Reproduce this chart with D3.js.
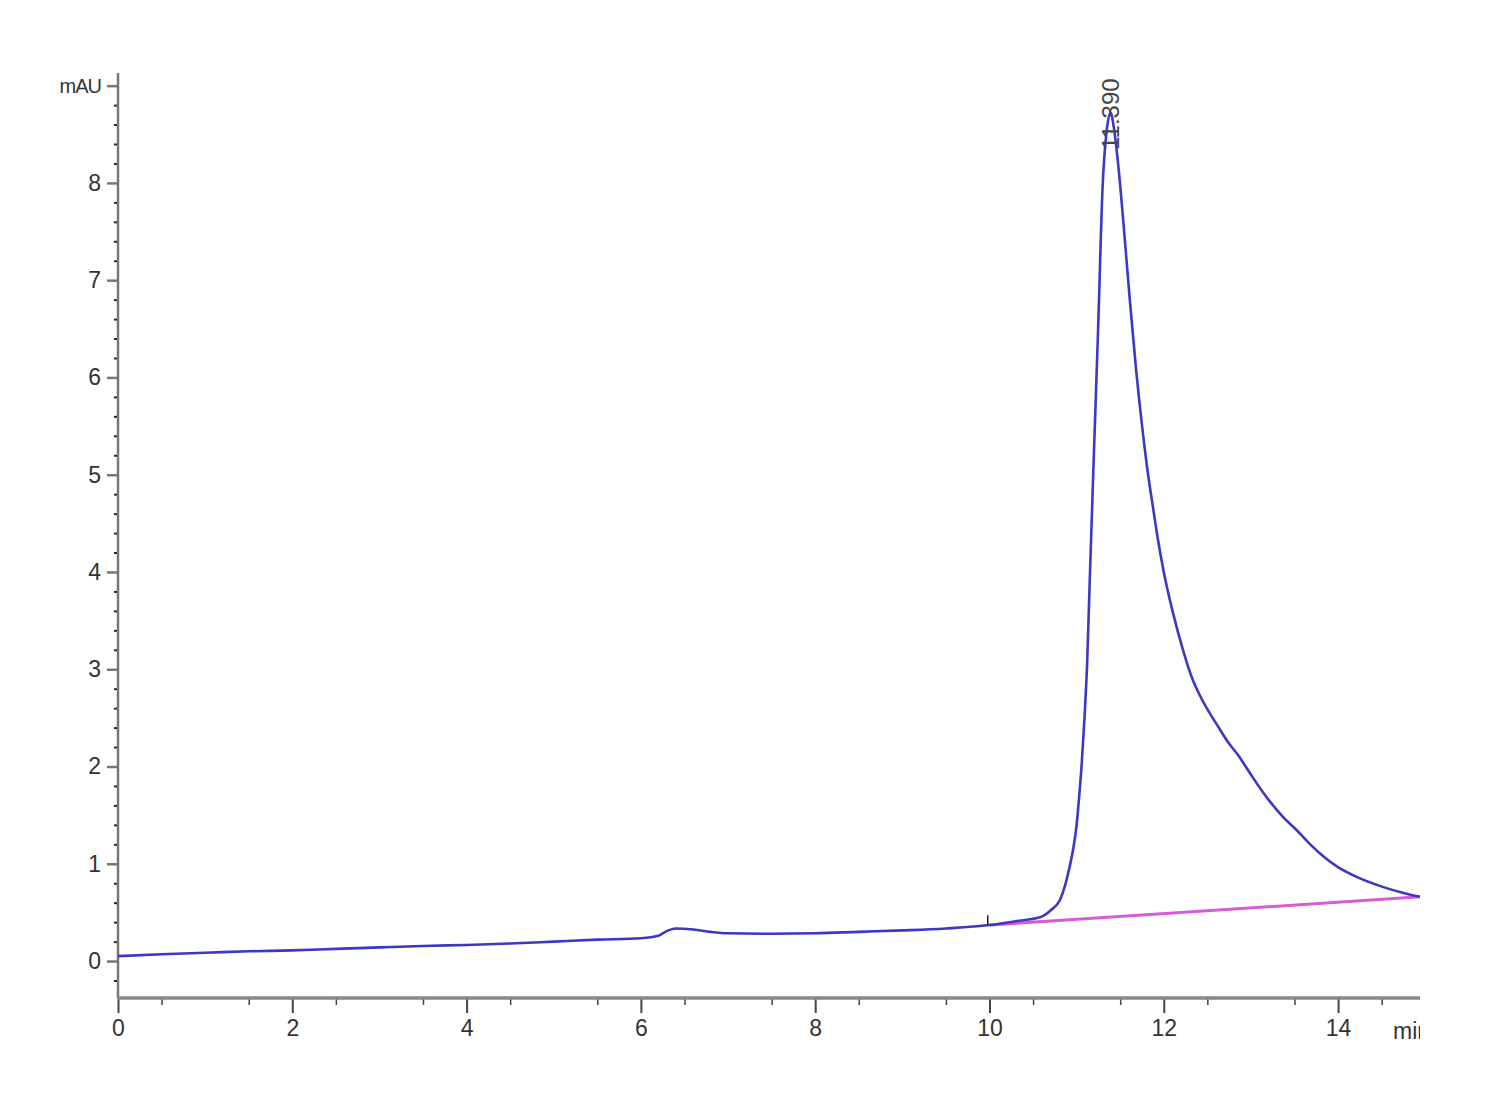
<!DOCTYPE html>
<html>
<head>
<meta charset="utf-8">
<script src="https://cdn.jsdelivr.net/npm/d3@7"></script>
<style>
  body { margin: 0; background: #fff; }
  svg { display: block; }
</style>
</head>
<body>
<div id="chart"></div>
<script>
// chromatogram trace (retention time in min, absorbance in mAU)
var traceTime = [0, 0.5, 1, 1.5, 2, 2.5, 3, 3.5, 4, 4.5, 5, 5.5, 6.0, 6.2, 6.3, 6.4, 6.6, 6.8, 7.0, 7.5,
  8.0, 8.5, 9.0, 9.5, 10.0, 10.3, 10.58, 10.7, 10.81, 10.92, 10.96, 11.00, 11.03, 11.06, 11.09, 11.12,
  11.15, 11.19, 11.245, 11.30, 11.34, 11.39, 11.43, 11.48, 11.55, 11.61, 11.68, 11.76, 11.82, 11.87,
  11.93, 12.0, 12.1, 12.22, 12.32, 12.42, 12.52, 12.61, 12.73, 12.85, 12.99, 13.15, 13.37, 13.52,
  13.68, 13.84, 13.99, 14.2, 14.52, 14.75, 14.94];
var traceMAU = [0.05, 0.07, 0.085, 0.10, 0.11, 0.125, 0.14, 0.155, 0.165, 0.18, 0.2, 0.22, 0.235, 0.26, 0.31, 0.335, 0.325, 0.30, 0.285, 0.28,
  0.285, 0.30, 0.315, 0.335, 0.37, 0.41, 0.45, 0.52, 0.63, 0.97, 1.15, 1.4, 1.7, 2.05, 2.5, 3.05,
  3.9, 5.0, 6.46, 8.0, 8.5, 8.72, 8.55, 8.16, 7.45, 6.8, 6.1, 5.43, 5.0, 4.7,
  4.35, 4.0, 3.6, 3.2, 2.92, 2.72, 2.56, 2.43, 2.26, 2.12, 1.93, 1.72, 1.48, 1.35,
  1.2, 1.07, 0.97, 0.87, 0.76, 0.7, 0.66];

// integration baseline under the peak
var baseTime = [10.0, 14.94];
var baseMAU = [0.37, 0.66];

var peakTime = 11.39;
var peakLabel = "11.390";

var xMajor = [0, 2, 4, 6, 8, 10, 12, 14];
var yMajor = [0, 1, 2, 3, 4, 5, 6, 7, 8, 9];

var width = 1500, height = 1100;
var plotLeft = 118, plotRight = 1420, plotTop = 73, plotBottom = 998;

var svg = d3.select("#chart").append("svg")
    .attr("width", width)
    .attr("height", height);

svg.append("rect").attr("width", width).attr("height", height).attr("fill", "#fff");

var x = d3.scaleLinear().domain([0, 14.94]).range([plotLeft, plotRight]);
var y = d3.scaleLinear().domain([-0.38, 9.13]).range([plotBottom, plotTop]);

var tickFont = "'Liberation Sans', Arial, sans-serif";

// clip everything to the right edge of the plot
svg.append("clipPath").attr("id", "clip")
  .append("rect").attr("x", 0).attr("y", 0).attr("width", plotRight).attr("height", height);

var g = svg.append("g").attr("clip-path", "url(#clip)");

// y axis: minor ticks every 0.2
var yMinor = d3.range(-0.2, 9.01, 0.2).filter(function(v) { return Math.abs(v - Math.round(v)) > 0.01; });
g.append("g")
    .attr("transform", "translate(" + plotLeft + ",0)")
    .call(d3.axisLeft(y).tickValues(yMinor).tickSize(4).tickFormat(""))
    .call(function(a) {
      a.select(".domain").remove();
      a.selectAll("line").attr("stroke", "#222").attr("stroke-width", 2);
    });

var yAxis = g.append("g")
    .attr("transform", "translate(" + plotLeft + ",0)")
    .call(d3.axisLeft(y).tickValues(yMajor).tickSize(11).tickSizeOuter(0).tickPadding(6)
      .tickFormat(function(d) { return d === 9 ? "mAU" : d; }));
yAxis.select(".domain").remove();
yAxis.selectAll("line").attr("stroke", "#777").attr("stroke-width", 2.5);
yAxis.selectAll("text")
    .attr("fill", "#333")
    .style("font-family", tickFont)
    .style("font-size", "23px");
yAxis.selectAll("text").filter(function(d) { return d === 9; })
    .style("font-size", "20px")
    .style("letter-spacing", "-1px");

g.append("line")
    .attr("x1", plotLeft).attr("x2", plotLeft)
    .attr("y1", plotTop).attr("y2", plotBottom)
    .attr("stroke", "#777").attr("stroke-width", 2.5);

// x axis: minor ticks every 0.5
var xMinor = d3.range(0.5, 15, 1);
g.append("g")
    .attr("transform", "translate(0," + plotBottom + ")")
    .call(d3.axisBottom(x).tickValues(xMinor).tickSize(7).tickFormat(""))
    .call(function(a) {
      a.select(".domain").remove();
      a.selectAll("line").attr("stroke", "#444").attr("stroke-width", 1.5);
    });

var xAxis = g.append("g")
    .attr("transform", "translate(0," + plotBottom + ")")
    .call(d3.axisBottom(x).tickValues(xMajor).tickSize(15).tickSizeOuter(0).tickPadding(7));
xAxis.select(".domain").remove();
xAxis.selectAll("line").attr("stroke", "#444").attr("stroke-width", 2);
xAxis.selectAll("text")
    .attr("fill", "#333")
    .style("font-family", tickFont)
    .style("font-size", "23px");

g.append("line")
    .attr("x1", plotLeft).attr("x2", plotRight)
    .attr("y1", plotBottom).attr("y2", plotBottom)
    .attr("stroke", "#888").attr("stroke-width", 3.5);

g.append("text")
    .attr("x", plotRight - 27)
    .attr("y", plotBottom + 41)
    .attr("fill", "#333")
    .style("font-family", tickFont)
    .style("font-size", "23px")
    .text("min");

// integration baseline
var baseData = baseTime.map(function(t, i) { return [t, baseMAU[i]]; });
g.append("path")
    .datum(baseData)
    .attr("fill", "none")
    .attr("stroke", "#d75ad7")
    .attr("stroke-width", 3)
    .attr("d", d3.line().x(function(d) { return x(d[0]); }).y(function(d) { return y(d[1]); }));

// signal trace
var traceData = traceTime.map(function(t, i) { return [t, traceMAU[i]]; });
g.append("path")
    .datum(traceData)
    .attr("fill", "none")
    .attr("stroke", "#3d37c6")
    .attr("stroke-width", 2.6)
    .attr("stroke-linejoin", "round")
    .attr("d", d3.line().curve(d3.curveMonotoneX)
      .x(function(d) { return x(d[0]); }).y(function(d) { return y(d[1]); }));

// peak start marker
g.append("line")
    .attr("x1", x(baseTime[0] - 0.02)).attr("x2", x(baseTime[0] - 0.02))
    .attr("y1", y(baseMAU[0])).attr("y2", y(baseMAU[0] + 0.1))
    .attr("stroke", "#222").attr("stroke-width", 1.5);

// retention time label
g.append("text")
    .attr("transform", "translate(" + (x(peakTime) + 8) + "," + 150 + ") rotate(-90)")
    .attr("fill", "#444")
    .style("font-family", tickFont)
    .style("font-size", "24px")
    .text(peakLabel);
</script>
</body>
</html>
